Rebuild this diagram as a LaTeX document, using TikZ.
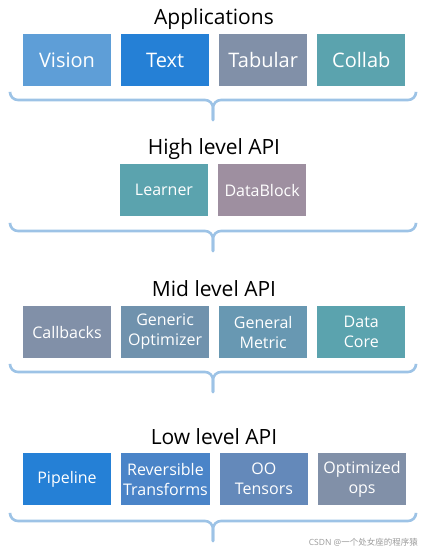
\documentclass[tikz,border=0pt]{standalone}
\usepackage{fontspec}
\setmainfont{Open Sans}
\newfontfamily\cjk{Noto Sans CJK SC}
\usetikzlibrary{positioning}
\definecolor{cLight}{HTML}{5E9ED7}
\definecolor{cBlue}{HTML}{2580D6}
\definecolor{cSlate}{HTML}{8190A8}
\definecolor{cTeal}{HTML}{5BA3AE}
\definecolor{cMauve}{HTML}{9E8FA0}
\definecolor{cSteel}{HTML}{7092AD}
\definecolor{cSea}{HTML}{6898B2}
\definecolor{cMid}{HTML}{4A84C8}
\definecolor{cDenim}{HTML}{6489BA}
\definecolor{cBrace}{HTML}{9DC3E6}
\definecolor{cMark}{HTML}{9A9A9A}
\tikzset{
  layer/.style={fill=#1,text=white,minimum width=88pt,minimum height=52pt,inner sep=2pt,align=center,
    font=\fontsize{16}{20}\selectfont},
  biglayer/.style={layer=#1,font=\fontsize{20}{24}\selectfont},
  ttl/.style={anchor=base,font=\fontsize{21}{25}\selectfont,text=black},
  brc/.style={draw=cBrace,line width=2.6pt,line cap=round,rounded corners=8pt},
  wmark/.style={anchor=east,font=\fontsize{8.5}{10}\selectfont,text=cMark,inner sep=0pt},
}
\begin{document}
\begin{tikzpicture}[x=1pt,y=-1pt]
  \useasboundingbox (0,0) rectangle (433,555);
  % applications
  \node[ttl] (tApp) at (214,24) {Applications};
  \node[biglayer=cLight] (vision) at (67,60) {Vision};
  \node[biglayer=cBlue,right=9.7pt of vision] (text) {Text};
  \node[biglayer=cSlate,right=9.7pt of text] (tabular) {Tabular};
  \node[biglayer=cTeal,right=9.7pt of tabular] (collab) {Collab};
  % high level
  \node[ttl] (tHigh) at (214,154) {High level API};
  \node[layer=cTeal] (learner) at (164,190) {Learner};
  \node[layer=cMauve,right=9.7pt of learner] (datablock) {DataBlock};
  % mid level
  \node[ttl] (tMid) at (214,296) {Mid level API};
  \node[layer=cSlate] (callbacks) at (67,332) {Callbacks};
  \node[layer=cSteel,right=9.7pt of callbacks] (optim) {Generic\\Optimizer};
  \node[layer=cSea,right=9.7pt of optim] (metric) {General\\Metric};
  \node[layer=cTeal,right=9.7pt of metric] (datacore) {Data\\Core};
  % low level
  \node[ttl] (tLow) at (214,444) {Low level API};
  \node[layer=cBlue] (pipeline) at (67,479) {Pipeline};
  \node[layer=cMid,right=9.7pt of pipeline] (transforms) {Reversible\\Transforms};
  \node[layer=cDenim,right=9.7pt of transforms] (tensors) {OO\\Tensors};
  \node[layer=cSlate,right=9.7pt of tensors] (ops) {Optimized\\ops};
  % braces under each layer
  \foreach \yb in {93,224,365,514} {
    \draw[brc] (10,\yb) -- (10,\yb+7) -- (213,\yb+7) -- (213,\yb+27);
    \draw[brc] (416,\yb) -- (416,\yb+7) -- (213,\yb+7) -- (213,\yb+27);
  }
  \node[wmark] (wm) at (418,542) {CSDN @{\cjk 一个处女座的程序猿}};
\end{tikzpicture}
\end{document}
